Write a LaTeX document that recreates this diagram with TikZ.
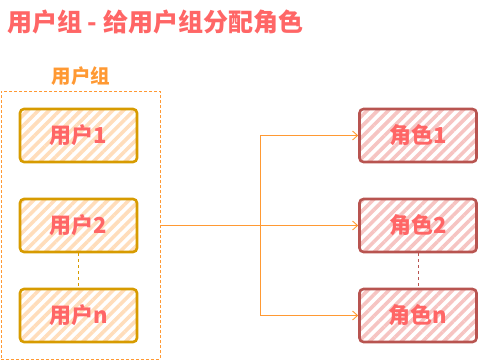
\documentclass[tikz,border=0pt]{standalone}
\usepackage{fontspec}
\setmainfont{Noto Sans CJK SC}
\usetikzlibrary{patterns.meta,arrows.meta}
\definecolor{titlec}{HTML}{FF6666}
\definecolor{grpc}{HTML}{FF9933}
\definecolor{ustroke}{HTML}{D79B00}
\definecolor{ufill}{HTML}{FFDDBB}
\definecolor{rstroke}{HTML}{B85450}
\definecolor{rfill}{HTML}{F6C4C2}
\begin{document}
\begin{tikzpicture}[x=1pt,y=-1pt,
  basebox/.style={line width=2.6pt, rounded corners=4pt, minimum width=117pt, minimum height=53pt, inner sep=0pt, text=titlec, font=\bfseries\fontsize{22}{26}\selectfont},
  userbox/.style={basebox, draw=ustroke, pattern={Lines[angle=45,distance=7.5pt,line width=3.6pt]}, pattern color=ufill},
  rolebox/.style={basebox, draw=rstroke, pattern={Lines[angle=45,distance=7.5pt,line width=3.6pt]}, pattern color=rfill},
  link/.style={draw=grpc, line width=0.9pt, -{Straight Barb[length=5pt,width=9pt]}},
  gap/.style={dashed, line width=0.9pt}]
\useasboundingbox (0,0) rectangle (478,361);
\node[anchor=west, text=titlec, font=\bfseries\fontsize{25}{30}\selectfont, inner sep=0pt] (title) at (7,22) {用户组 - 给用户组分配角色};
\node[text=grpc, font=\bfseries\fontsize{19.5}{23}\selectfont, inner sep=0pt] (glabel) at (81,76) {用户组};
\node[draw=grpc, dash pattern=on 3pt off 2pt, line width=0.9pt, minimum width=159pt, minimum height=268pt, inner sep=0pt] (grp) at (80.5,225) {};
\node[userbox] (u1) at (78.5,135.5) {用户1};
\node[userbox] (u2) at (78.5,225.5) {用户2};
\node[userbox] (un) at (78.5,315.5) {用户n};
\node[rolebox] (r1) at (418,135.5) {角色1};
\node[rolebox] (r2) at (418,225.5) {角色2};
\node[rolebox] (rn) at (418,315.5) {角色n};
\draw[gap, draw=ustroke] (u2.south) -- (un.north);
\draw[gap, draw=rstroke] (r2.south) -- (rn.north);
\coordinate (split) at (260,225.5);
\draw[link] (grp.east |- r2.west) -- (r2.west);
\draw[link] (split) |- (r1.west);
\draw[link] (split) |- (rn.west);
\end{tikzpicture}
\end{document}
